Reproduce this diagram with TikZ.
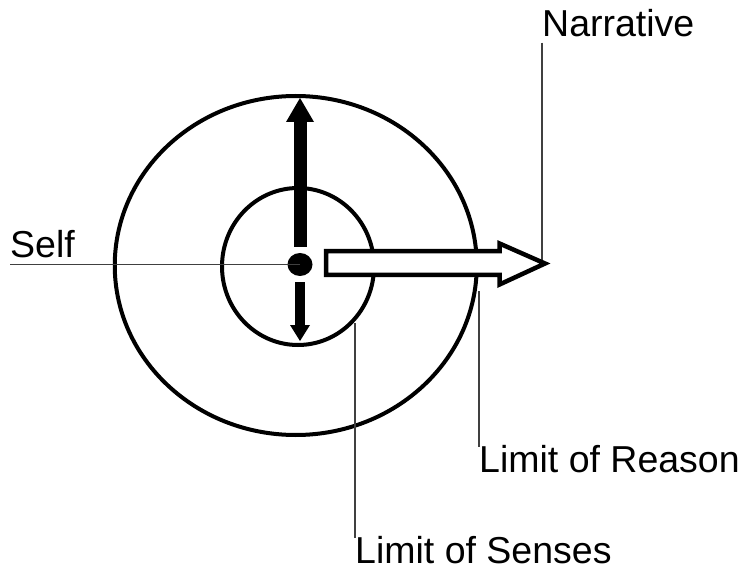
\documentclass[tikz,border=0pt]{standalone}
\usepackage{fontspec}
\setmainfont{Liberation Sans}
\usetikzlibrary{arrows.meta,shapes.geometric,positioning,calc}

\begin{document}
\begin{tikzpicture}[x=1pt,y=-1pt,
  limit/.style={draw,ellipse,line width=4pt,inner sep=0pt},
  tag/.style={inner sep=0pt,anchor=base west,font=\fontsize{37.5}{40}\selectfont},
  leader/.style={draw=black!75,line width=1.5pt}]
\useasboundingbox (0,0) rectangle (749,569);
% the two limits and the self
\node[limit,minimum width=362pt,minimum height=339pt] (reason) at (295.75,265.5) {};
\node[limit,minimum width=152pt,minimum height=157pt] (senses) at (298,266.5) {};
\node[ellipse,fill,inner sep=0pt,minimum width=25pt,minimum height=23pt] (self) at (300,264.5) {};
% labels
\node[tag] (selflbl) at (10,258) {Self};
\node[tag] (narrlbl) at (542,37) {Narrative};
\node[tag] (reasonlbl) at (479,472) {Limit of Reason};
\node[tag] (senseslbl) at (355,563) {Limit of Senses};
\coordinate (tip) at (545,263.5);
\path[leader]
(self.center) -- (self.center -| selflbl.west)
([yshift=-5pt]narrlbl.south west) -- (narrlbl.south west |- tip)
([yshift=-2pt]reasonlbl.north west) -- (reasonlbl.north west |- reason.-8)
([yshift=-2pt]senseslbl.north west) -- (senseslbl.north west |- senses.-45)
;
% up and down
\draw[line width=13pt,-{Triangle[length=24pt,width=28pt,line width=0pt]},shorten <=6pt,shorten >=4pt]
(self.north) -- (self.north |- reason.north);
\draw[line width=10pt,-{Triangle[length=16pt,width=20pt,line width=0pt]},shorten <=6pt,shorten >=6pt]
(self.south) -- (self.south |- senses.south);
% the narrative
\draw[line width=4.5pt,fill=white] (326,251.25) -- (499.5,251.25) -- (499.5,243.5) -- (tip)
-- (499.5,284.5) -- (499.5,274.75) -- (326,274.75) -- cycle;
\end{tikzpicture}
\end{document}
